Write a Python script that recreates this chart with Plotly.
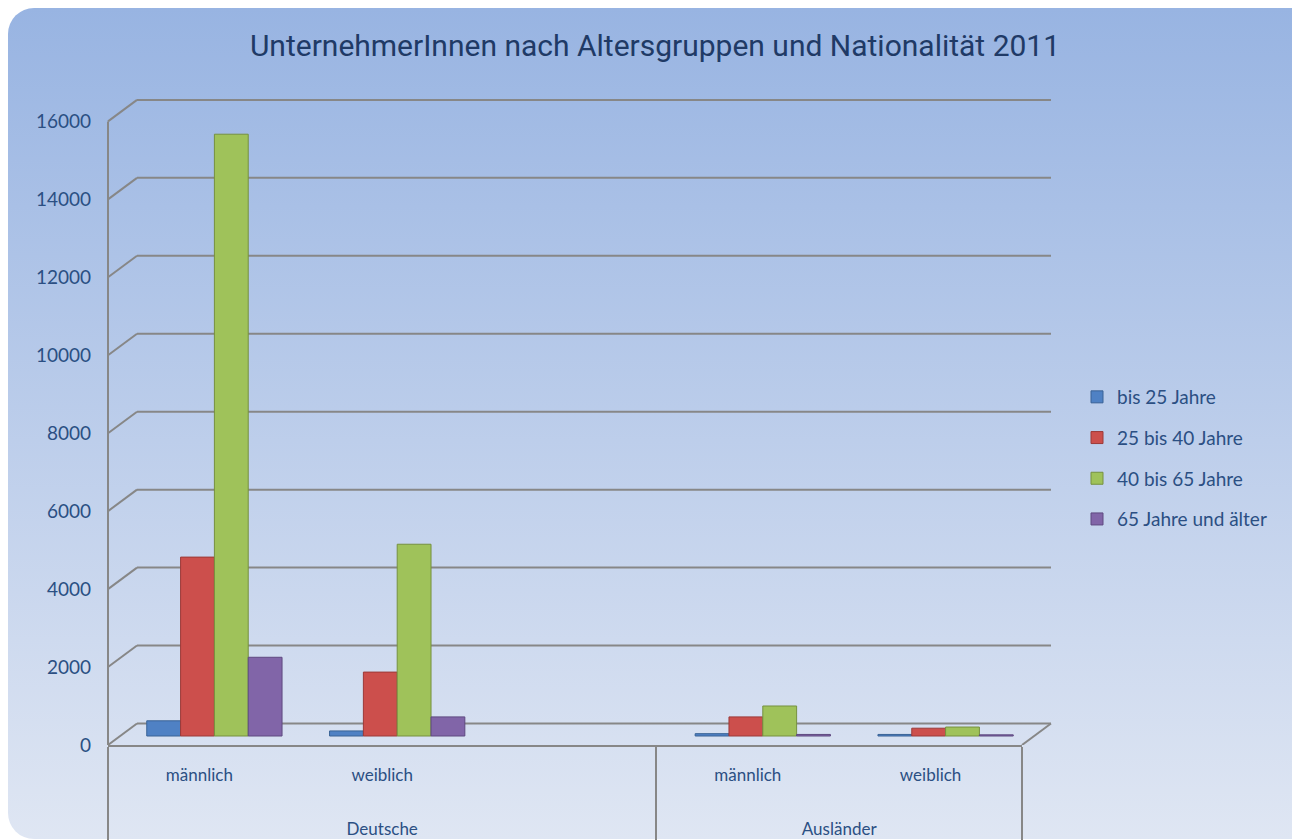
import base64
import plotly.graph_objects as go

# ---- data ----
nationality = ["Deutsche", "Deutsche", "Deutsche", "Ausländer", "Ausländer"]
gender = ["männlich", "weiblich", " ", "männlich", "weiblich"]
series_names = ["bis 25 Jahre", "25 bis 40 Jahre", "40 bis 65 Jahre", "65 Jahre und älter"]
bis25 = [390, 130, None, 60, 40]
j25_40 = [4590, 1640, None, 490, 200]
j40_65 = [15440, 4920, None, 770, 230]
j65plus = [2020, 490, None, 40, 30]
values = [bis25, j25_40, j40_65, j65plus]
y_ticks = [0, 2000, 4000, 6000, 8000, 10000, 12000, 14000, 16000]

colors = ["#4f81c4", "#cc4f4c", "#9fc25a", "#8165a8"]
edge_colors = ["#3a6396", "#9c3a38", "#76913f", "#5f4a80"]
grid_color = "#878787"
text_color = "#2b4f83"

# ---- geometry of the pseudo-3D frame ----
W, H = 1300, 840
ml, mr, mt, mb = 100, 286, 90, 103
pw, ph = W - ml - mr, H - mt - mb
y_top = 16600
px_per_unit = ph / y_top
depth_dy = 21.5 / px_per_unit      # back wall offset (value units)
depth_dx = 29 / pw                 # back wall offset (paper units)
bar_dy = 9 / px_per_unit           # bars stand at mid depth
bar_dx = 15 / (pw / len(gender))   # in category units

svg = """<svg xmlns='http://www.w3.org/2000/svg' width='1300' height='840' viewBox='0 0 1300 840' preserveAspectRatio='none'>
<defs><linearGradient id='g' x1='0' y1='0' x2='0' y2='1'>
<stop offset='0' stop-color='#98b4e2'/><stop offset='1' stop-color='#dfe6f3'/></linearGradient></defs>
<rect x='0' y='0' width='1340' height='831' rx='26' ry='26' fill='url(#g)'/></svg>"""
src = "data:image/svg+xml;base64," + base64.b64encode(svg.encode()).decode()

x_inner = gender
x_outer = ["<br><br>" + n for n in nationality]

fig = go.Figure()
for name, vals, c, ec in zip(series_names, values, colors, edge_colors):
    fig.add_trace(go.Bar(
        x=[x_outer, x_inner], y=vals, name=name, legendgroup=name,
        xaxis="x2", yaxis="y2",
        marker=dict(color=c, line=dict(color=ec, width=1)),
    ))
# invisible trace to carry the visible category axis
fig.add_trace(go.Bar(x=[x_outer, x_inner], y=[None] * len(gender), showlegend=False,
                     hoverinfo="skip", xaxis="x", yaxis="y"))

shapes = []
line = dict(color=grid_color, width=2)
for v in y_ticks:
    shapes.append(dict(type="line", xref="paper", yref="y", x0=0, x1=depth_dx,
                       y0=v, y1=v + depth_dy, line=line, layer="below"))
    shapes.append(dict(type="line", xref="paper", yref="y", x0=depth_dx, x1=1 + depth_dx,
                       y0=v + depth_dy, y1=v + depth_dy, line=line, layer="below"))
# front vertical edge and right floor edge
shapes.append(dict(type="line", xref="paper", yref="y", x0=0, x1=0, y0=0, y1=y_ticks[-1],
                   line=line, layer="below"))
shapes.append(dict(type="line", xref="paper", yref="y", x0=1, x1=1 + depth_dx, y0=0, y1=depth_dy,
                   line=line, layer="below"))

fig.update_layout(
    width=W, height=H,
    margin=dict(l=ml, r=mr, t=mt, b=mb),
    paper_bgcolor="white",
    plot_bgcolor="rgba(0,0,0,0)",
    barmode="group", bargap=0.26, bargroupgap=0.0,
    title=dict(text="UnternehmerInnen nach Altersgruppen und Nationalität 2011",
               x=647 / W, xref="container", xanchor="center",
               y=1 - 37 / H, yref="container", yanchor="middle",
               font=dict(family="Roboto, sans-serif", size=30, color="#203a66")),
    font=dict(family="Lato, Open Sans, sans-serif", color=text_color),
    showlegend=True,
    legend=dict(x=(1069 - ml) / pw, y=(737 - 450) / ph, xanchor="left", yanchor="middle",
                font=dict(size=19, color=text_color, family="Lato, sans-serif"),
                bgcolor="rgba(0,0,0,0)", traceorder="grouped", tracegroupgap=13),
    shapes=shapes,
    images=[dict(source=src, xref="paper", yref="paper",
                 x=-ml / pw, y=(H - mb) / ph,
                 sizex=W / pw, sizey=H / ph,
                 xanchor="left", yanchor="top", sizing="stretch", layer="below")],
    xaxis=dict(type="multicategory", showline=True, linecolor=grid_color, linewidth=2,
               showdividers=True, dividercolor=grid_color, dividerwidth=2,
               ticklabelstandoff=14, showgrid=False, automargin=False,
               tickfont=dict(size=17, color=text_color, family="Lato, sans-serif")),
    xaxis2=dict(type="multicategory", overlaying="x", visible=False,
                range=[-0.5 - bar_dx, len(gender) - 0.5 - bar_dx]),
    yaxis=dict(range=[0, y_top], tickvals=y_ticks, tickformat="d", showgrid=False,
               showline=False, zeroline=False, ticklabelstandoff=16, automargin=False,
               tickfont=dict(size=19, color=text_color)),
    yaxis2=dict(range=[-bar_dy, y_top - bar_dy], overlaying="y", visible=False),
)

fig.write_html("out.html")
